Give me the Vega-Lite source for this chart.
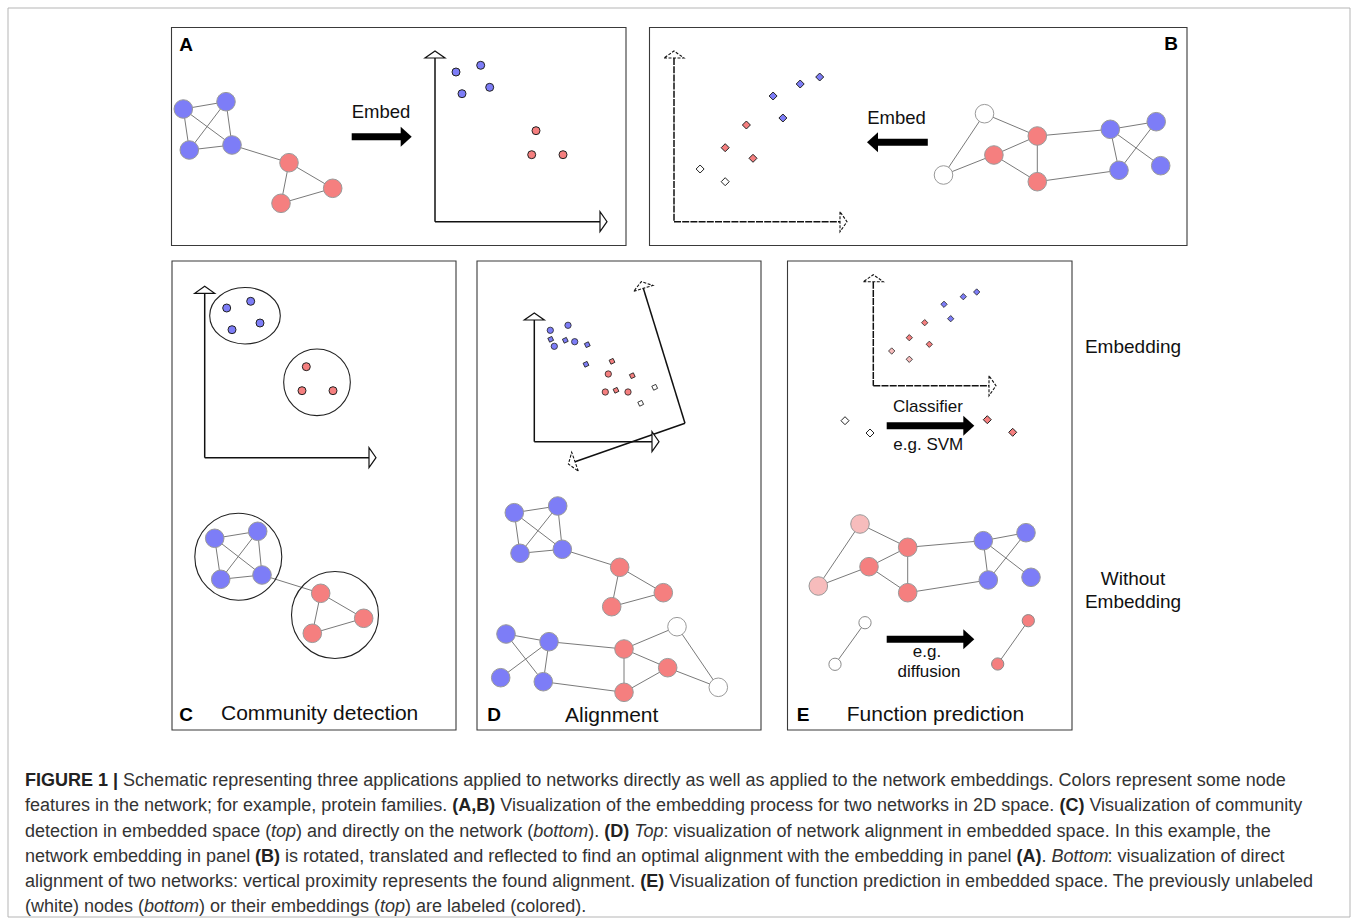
{
  "$schema": "https://vega.github.io/schema/vega-lite/v6.json",
  "width": 1358,
  "height": 922,
  "autosize": {"type": "fit", "contains": "padding"},
  "padding": 0,
  "background": "white",
  "config": {"view": {"stroke": null}, "text": {"font": "Liberation Sans"}},
  "datasets": {
    "frame": [{"x": 8, "y": 8, "x2": 1350, "y2": 917}],
    "panels": [
      {"panel": "A", "x": 171.5, "y": 27.5, "x2": 626, "y2": 245.5},
      {"panel": "B", "x": 649.5, "y": 27.5, "x2": 1187, "y2": 245.5},
      {"panel": "C", "x": 172, "y": 261, "x2": 456, "y2": 730},
      {"panel": "D", "x": 477, "y": 261, "x2": 761, "y2": 730},
      {"panel": "E", "x": 787.5, "y": 261, "x2": 1072, "y2": 730}
    ],
    "edges": [
      {"x": 183.3, "y": 109, "x2": 226, "y2": 101.7},
      {"x": 183.3, "y": 109, "x2": 189.3, "y2": 150},
      {"x": 183.3, "y": 109, "x2": 232, "y2": 145},
      {"x": 226, "y": 101.7, "x2": 189.3, "y2": 150},
      {"x": 226, "y": 101.7, "x2": 232, "y2": 145},
      {"x": 189.3, "y": 150, "x2": 232, "y2": 145},
      {"x": 232, "y": 145, "x2": 289, "y2": 162.7},
      {"x": 289, "y": 162.7, "x2": 332.7, "y2": 188.3},
      {"x": 289, "y": 162.7, "x2": 281, "y2": 203.3},
      {"x": 332.7, "y": 188.3, "x2": 281, "y2": 203.3},

      {"x": 984.5, "y": 113.7, "x2": 943.5, "y2": 175},
      {"x": 984.5, "y": 113.7, "x2": 1037.3, "y2": 136},
      {"x": 943.5, "y": 175, "x2": 993.9, "y2": 155},
      {"x": 993.9, "y": 155, "x2": 1037.3, "y2": 136},
      {"x": 993.9, "y": 155, "x2": 1037.3, "y2": 181.7},
      {"x": 1037.3, "y": 136, "x2": 1037.3, "y2": 181.7},
      {"x": 1037.3, "y": 136, "x2": 1110.3, "y2": 129.3},
      {"x": 1037.3, "y": 181.7, "x2": 1119, "y2": 170.3},
      {"x": 1110.3, "y": 129.3, "x2": 1156.2, "y2": 121.7},
      {"x": 1110.3, "y": 129.3, "x2": 1119, "y2": 170.3},
      {"x": 1110.3, "y": 129.3, "x2": 1160.7, "y2": 165.7},
      {"x": 1156.2, "y": 121.7, "x2": 1119, "y2": 170.3},

      {"x": 214.7, "y": 538.3, "x2": 257.7, "y2": 531.3},
      {"x": 214.7, "y": 538.3, "x2": 220.7, "y2": 579.3},
      {"x": 214.7, "y": 538.3, "x2": 262, "y2": 575},
      {"x": 257.7, "y": 531.3, "x2": 220.7, "y2": 579.3},
      {"x": 257.7, "y": 531.3, "x2": 262, "y2": 575},
      {"x": 220.7, "y": 579.3, "x2": 262, "y2": 575},
      {"x": 262, "y": 575, "x2": 320.7, "y2": 593.3},
      {"x": 320.7, "y": 593.3, "x2": 363.7, "y2": 618.3},
      {"x": 320.7, "y": 593.3, "x2": 312.3, "y2": 633.3},
      {"x": 363.7, "y": 618.3, "x2": 312.3, "y2": 633.3},

      {"x": 514.3, "y": 512.7, "x2": 557.7, "y2": 506},
      {"x": 514.3, "y": 512.7, "x2": 520, "y2": 553.3},
      {"x": 514.3, "y": 512.7, "x2": 562.3, "y2": 549.3},
      {"x": 557.7, "y": 506, "x2": 520, "y2": 553.3},
      {"x": 557.7, "y": 506, "x2": 562.3, "y2": 549.3},
      {"x": 520, "y": 553.3, "x2": 562.3, "y2": 549.3},
      {"x": 562.3, "y": 549.3, "x2": 619.7, "y2": 567.3},
      {"x": 619.7, "y": 567.3, "x2": 663.3, "y2": 592.7},
      {"x": 619.7, "y": 567.3, "x2": 611.7, "y2": 606.7},
      {"x": 663.3, "y": 592.7, "x2": 611.7, "y2": 606.7},

      {"x": 506, "y": 634, "x2": 549, "y2": 641.7},
      {"x": 506, "y": 634, "x2": 543.3, "y2": 681.7},
      {"x": 549, "y": 641.7, "x2": 500.7, "y2": 677.7},
      {"x": 549, "y": 641.7, "x2": 543.3, "y2": 681.7},
      {"x": 549, "y": 641.7, "x2": 624, "y2": 649},
      {"x": 543.3, "y": 681.7, "x2": 624, "y2": 692.3},
      {"x": 624, "y": 649, "x2": 624, "y2": 692.3},
      {"x": 624, "y": 649, "x2": 667.7, "y2": 667.7},
      {"x": 624, "y": 649, "x2": 677, "y2": 626.7},
      {"x": 667.7, "y": 667.7, "x2": 624, "y2": 692.3},
      {"x": 667.7, "y": 667.7, "x2": 718.3, "y2": 687.3},
      {"x": 677, "y": 626.7, "x2": 718.3, "y2": 687.3},

      {"x": 860, "y": 524, "x2": 818.3, "y2": 586},
      {"x": 860, "y": 524, "x2": 907.7, "y2": 547.3},
      {"x": 818.3, "y": 586, "x2": 869, "y2": 566.7},
      {"x": 869, "y": 566.7, "x2": 907.7, "y2": 547.3},
      {"x": 869, "y": 566.7, "x2": 907.7, "y2": 592.7},
      {"x": 907.7, "y": 547.3, "x2": 907.7, "y2": 592.7},
      {"x": 907.7, "y": 547.3, "x2": 983.3, "y2": 540.7},
      {"x": 907.7, "y": 592.7, "x2": 988.3, "y2": 580},
      {"x": 983.3, "y": 540.7, "x2": 1026, "y2": 532.7},
      {"x": 983.3, "y": 540.7, "x2": 988.3, "y2": 580},
      {"x": 983.3, "y": 540.7, "x2": 1031, "y2": 577.3},
      {"x": 1026, "y": 532.7, "x2": 988.3, "y2": 580},

      {"x": 865, "y": 622.7, "x2": 835, "y2": 664.3},
      {"x": 1028.3, "y": 620.7, "x2": 997.7, "y2": 664}
    ],
    "nodes": [
      {"x": 183.3, "y": 109, "cls": "blue"}, {"x": 226, "y": 101.7, "cls": "blue"},
      {"x": 189.3, "y": 150, "cls": "blue"}, {"x": 232, "y": 145, "cls": "blue"},
      {"x": 289, "y": 162.7, "cls": "red"}, {"x": 332.7, "y": 188.3, "cls": "red"},
      {"x": 281, "y": 203.3, "cls": "red"},

      {"x": 984.5, "y": 113.7, "cls": "white"}, {"x": 943.5, "y": 175, "cls": "white"},
      {"x": 1037.3, "y": 136, "cls": "red"}, {"x": 993.9, "y": 155, "cls": "red"},
      {"x": 1037.3, "y": 181.7, "cls": "red"}, {"x": 1110.3, "y": 129.3, "cls": "blue"},
      {"x": 1156.2, "y": 121.7, "cls": "blue"}, {"x": 1119, "y": 170.3, "cls": "blue"},
      {"x": 1160.7, "y": 165.7, "cls": "blue"},

      {"x": 214.7, "y": 538.3, "cls": "blue"}, {"x": 257.7, "y": 531.3, "cls": "blue"},
      {"x": 220.7, "y": 579.3, "cls": "blue"}, {"x": 262, "y": 575, "cls": "blue"},
      {"x": 320.7, "y": 593.3, "cls": "red"}, {"x": 363.7, "y": 618.3, "cls": "red"},
      {"x": 312.3, "y": 633.3, "cls": "red"},

      {"x": 514.3, "y": 512.7, "cls": "blue"}, {"x": 557.7, "y": 506, "cls": "blue"},
      {"x": 520, "y": 553.3, "cls": "blue"}, {"x": 562.3, "y": 549.3, "cls": "blue"},
      {"x": 619.7, "y": 567.3, "cls": "red"}, {"x": 663.3, "y": 592.7, "cls": "red"},
      {"x": 611.7, "y": 606.7, "cls": "red"},

      {"x": 506, "y": 634, "cls": "blue"}, {"x": 549, "y": 641.7, "cls": "blue"},
      {"x": 500.7, "y": 677.7, "cls": "blue"}, {"x": 543.3, "y": 681.7, "cls": "blue"},
      {"x": 624, "y": 649, "cls": "red"}, {"x": 667.7, "y": 667.7, "cls": "red"},
      {"x": 624, "y": 692.3, "cls": "red"}, {"x": 677, "y": 626.7, "cls": "white"},
      {"x": 718.3, "y": 687.3, "cls": "white"},

      {"x": 860, "y": 524, "cls": "pink"}, {"x": 818.3, "y": 586, "cls": "pink"},
      {"x": 869, "y": 566.7, "cls": "red"}, {"x": 907.7, "y": 547.3, "cls": "red"},
      {"x": 907.7, "y": 592.7, "cls": "red"}, {"x": 983.3, "y": 540.7, "cls": "blue"},
      {"x": 1026, "y": 532.7, "cls": "blue"}, {"x": 988.3, "y": 580, "cls": "blue"},
      {"x": 1031, "y": 577.3, "cls": "blue"}
    ],
    "pairNodes": [
      {"x": 865, "y": 622.7, "cls": "white"}, {"x": 835, "y": 664.3, "cls": "white"},
      {"x": 1028.3, "y": 620.7, "cls": "red"}, {"x": 997.7, "y": 664, "cls": "red"}
    ],
    "embedLarge": [
      {"x": 456, "y": 72, "cls": "blue", "kind": "circle"},
      {"x": 480.7, "y": 65.3, "cls": "blue", "kind": "circle"},
      {"x": 462, "y": 93.7, "cls": "blue", "kind": "circle"},
      {"x": 489.7, "y": 87.3, "cls": "blue", "kind": "circle"},
      {"x": 536, "y": 130.7, "cls": "red", "kind": "circle"},
      {"x": 531.7, "y": 154.7, "cls": "red", "kind": "circle"},
      {"x": 563, "y": 154.7, "cls": "red", "kind": "circle"},
      {"x": 226.7, "y": 308, "cls": "blue", "kind": "circle"},
      {"x": 250.7, "y": 301.3, "cls": "blue", "kind": "circle"},
      {"x": 232, "y": 329.7, "cls": "blue", "kind": "circle"},
      {"x": 260, "y": 323, "cls": "blue", "kind": "circle"},
      {"x": 306.3, "y": 366.7, "cls": "red", "kind": "circle"},
      {"x": 302, "y": 390.7, "cls": "red", "kind": "circle"},
      {"x": 333, "y": 390.7, "cls": "red", "kind": "circle"},
      {"x": 700.1, "y": 169, "cls": "white", "kind": "diamond"},
      {"x": 725.2, "y": 181.7, "cls": "white", "kind": "diamond"},
      {"x": 725.2, "y": 147.7, "cls": "red", "kind": "diamond"},
      {"x": 746.4, "y": 125, "cls": "red", "kind": "diamond"},
      {"x": 753, "y": 158.3, "cls": "red", "kind": "diamond"},
      {"x": 773.1, "y": 96, "cls": "blue", "kind": "diamond"},
      {"x": 782.9, "y": 118, "cls": "blue", "kind": "diamond"},
      {"x": 800.2, "y": 84, "cls": "blue", "kind": "diamond"},
      {"x": 819.7, "y": 77, "cls": "blue", "kind": "diamond"},
      {"x": 845, "y": 420.7, "cls": "white", "kind": "diamond"},
      {"x": 870, "y": 433, "cls": "white", "kind": "diamond"},
      {"x": 987.3, "y": 419.7, "cls": "red", "kind": "diamond"},
      {"x": 1012.7, "y": 432.3, "cls": "red", "kind": "diamond"}
    ],
    "embedSmall": [
      {"x": 550.3, "y": 330.3, "cls": "blue", "kind": "circle"},
      {"x": 568, "y": 325.3, "cls": "blue", "kind": "circle"},
      {"x": 554.3, "y": 346.3, "cls": "blue", "kind": "circle"},
      {"x": 574.7, "y": 341.7, "cls": "blue", "kind": "circle"},
      {"x": 608.3, "y": 374, "cls": "red", "kind": "circle"},
      {"x": 605.3, "y": 392, "cls": "red", "kind": "circle"},
      {"x": 628, "y": 392, "cls": "red", "kind": "circle"},
      {"x": 891.7, "y": 351, "cls": "pink", "kind": "diamond"},
      {"x": 909.3, "y": 359.3, "cls": "pink", "kind": "diamond"},
      {"x": 909.3, "y": 337.7, "cls": "red", "kind": "diamond"},
      {"x": 924.7, "y": 322.7, "cls": "red", "kind": "diamond"},
      {"x": 929.3, "y": 344.3, "cls": "red", "kind": "diamond"},
      {"x": 944, "y": 304.3, "cls": "blue", "kind": "diamond"},
      {"x": 950.7, "y": 318.7, "cls": "blue", "kind": "diamond"},
      {"x": 963.3, "y": 296.7, "cls": "blue", "kind": "diamond"},
      {"x": 976.7, "y": 292, "cls": "blue", "kind": "diamond"}
    ],
    "embedRotated": [
      {"x": 550.7, "y": 339.3, "cls": "blue"},
      {"x": 565.3, "y": 340.3, "cls": "blue"},
      {"x": 587.3, "y": 344.7, "cls": "blue"},
      {"x": 586, "y": 364.3, "cls": "blue"},
      {"x": 612, "y": 361.3, "cls": "red"},
      {"x": 632.3, "y": 375.7, "cls": "red"},
      {"x": 616, "y": 390.3, "cls": "red"},
      {"x": 654.7, "y": 387.3, "cls": "white"},
      {"x": 640.7, "y": 403.3, "cls": "white"}
    ],
    "ringsSmall": [{"x": 317, "y": 382.3}],
    "ringsLarge": [{"x": 238.3, "y": 556.7}, {"x": 335, "y": 615}],
    "ellipses": [{"x": 245, "y": 315.7}],
    "axesSolid": [
      {"x": 435, "y": 58, "x2": 435, "y2": 221.7},
      {"x": 435, "y": 221.7, "x2": 600, "y2": 221.7},
      {"x": 204.7, "y": 293.3, "x2": 204.7, "y2": 457.7},
      {"x": 204.7, "y": 457.7, "x2": 369, "y2": 457.7},
      {"x": 534.3, "y": 320, "x2": 534.3, "y2": 441.7},
      {"x": 534.3, "y": 441.7, "x2": 652, "y2": 441.7},
      {"x": 685, "y": 423.3, "x2": 643.3, "y2": 288.3},
      {"x": 685, "y": 423.3, "x2": 575, "y2": 461.7}
    ],
    "axesDashed": [
      {"x": 674, "y": 58, "x2": 674, "y2": 221.7},
      {"x": 674, "y": 221.7, "x2": 840, "y2": 221.7},
      {"x": 873.3, "y": 281.7, "x2": 873.3, "y2": 385.7},
      {"x": 873.3, "y": 385.7, "x2": 989, "y2": 385.7}
    ],
    "headsSolid": [
      {"x": 435, "y": 54.5, "dir": 0},
      {"x": 603.5, "y": 221.7, "dir": 90},
      {"x": 204.7, "y": 289.8, "dir": 0},
      {"x": 372.5, "y": 457.7, "dir": 90},
      {"x": 534.3, "y": 316.5, "dir": 0},
      {"x": 655.5, "y": 441.7, "dir": 90}
    ],
    "headsDashed": [
      {"x": 674, "y": 54.5, "dir": 0},
      {"x": 843.5, "y": 221.7, "dir": 90},
      {"x": 873.3, "y": 278.2, "dir": 0},
      {"x": 992.5, "y": 385.7, "dir": 90},
      {"x": 642.3, "y": 285, "dir": 342.8},
      {"x": 571.7, "y": 462.9, "dir": 250.8}
    ],
    "shafts": [
      {"x": 351.7, "x2": 402, "y": 136.7},
      {"x": 877.4, "x2": 927.8, "y": 142.3},
      {"x": 886.7, "x2": 965, "y": 425.7},
      {"x": 886.7, "x2": 965, "y": 639.3}
    ],
    "blockHeads": [
      {"x": 406.2, "y": 136.7, "dir": 90},
      {"x": 872.5, "y": 142.3, "dir": 270},
      {"x": 968.8, "y": 425.7, "dir": 90},
      {"x": 968.8, "y": 639.3, "dir": 90}
    ],
    "panelLetters": [
      {"x": 186, "y": 45, "t": "A"},
      {"x": 1171, "y": 44, "t": "B"},
      {"x": 186, "y": 715, "t": "C"},
      {"x": 494, "y": 715, "t": "D"},
      {"x": 803, "y": 715, "t": "E"}
    ],
    "titles": [
      {"x": 221, "y": 714, "t": "Community detection"},
      {"x": 565, "y": 716, "t": "Alignment"},
      {"x": 846.7, "y": 715, "t": "Function prediction"}
    ],
    "embedLabels": [
      {"x": 381, "y": 112, "t": "Embed"},
      {"x": 896.5, "y": 118, "t": "Embed"}
    ],
    "arrowLabels": [
      {"x": 928, "y": 406.5, "t": "Classifier"},
      {"x": 928.3, "y": 445, "t": "e.g. SVM"},
      {"x": 927, "y": 652, "t": "e.g."},
      {"x": 929, "y": 672, "t": "diffusion"}
    ],
    "sideLabels": [
      {"x": 1133, "y": 347, "t": "Embedding"},
      {"x": 1133, "y": 579, "t": "Without"},
      {"x": 1133, "y": 602, "t": "Embedding"}
    ],
    "capReg": [
      {"x": 123.1, "y": 781, "t": "Schematic representing three applications applied to networks directly as well as applied to the network embeddings. Colors represent some node"},
      {"x": 25, "y": 806, "t": "features in the network; for example, protein families."},
      {"x": 500.2, "y": 806, "t": "Visualization of the embedding process for two networks in 2D space."},
      {"x": 1089.4, "y": 806, "t": "Visualization of community"},
      {"x": 25, "y": 832, "t": "detection in embedded space ("},
      {"x": 296.1, "y": 832, "t": ") and directly on the network ("},
      {"x": 588.2, "y": 832, "t": ")."},
      {"x": 663.4, "y": 832, "t": ": visualization of network alignment in embedded space. In this example, the"},
      {"x": 25, "y": 857, "t": "network embedding in panel"},
      {"x": 285.1, "y": 857, "t": "is rotated, translated and reflected to find an optimal alignment with the embedding in panel"},
      {"x": 1041.5, "y": 857, "t": "."},
      {"x": 1107.5, "y": 857, "t": ": visualization of direct"},
      {"x": 25, "y": 882, "t": "alignment of two networks: vertical proximity represents the found alignment."},
      {"x": 669.2, "y": 882, "t": "Visualization of function prediction in embedded space. The previously unlabeled"},
      {"x": 25, "y": 907, "t": "(white) nodes ("},
      {"x": 199, "y": 907, "t": ") or their embeddings ("},
      {"x": 405.1, "y": 907, "t": ") are labeled (colored)."}
    ],
    "capBold": [
      {"x": 25, "y": 781, "t": "FIGURE 1 |"},
      {"x": 452.2, "y": 806, "t": "(A,B)"},
      {"x": 1059.4, "y": 806, "t": "(C)"},
      {"x": 604.2, "y": 832, "t": "(D)"},
      {"x": 255.1, "y": 857, "t": "(B)"},
      {"x": 1016.5, "y": 857, "t": "(A)"},
      {"x": 640.2, "y": 882, "t": "(E)"}
    ],
    "capItal": [
      {"x": 271.1, "y": 832, "t": "top"},
      {"x": 533.2, "y": 832, "t": "bottom"},
      {"x": 634.2, "y": 832, "t": "Top"},
      {"x": 1051.5, "y": 857, "t": "Bottom"},
      {"x": 144, "y": 907, "t": "bottom"},
      {"x": 380.1, "y": 907, "t": "top"}
    ]
  },
  "encoding": {
    "x": {"field": "x", "type": "quantitative", "scale": {"domain": [0, 1358], "nice": false, "zero": false}, "axis": null},
    "y": {"field": "y", "type": "quantitative", "scale": {"domain": [0, 922], "nice": false, "zero": false, "reverse": true}, "axis": null}
  },
  "layer": [
    {
      "data": {"name": "frame"},
      "mark": {"type": "rect", "filled": false, "stroke": "#b5b5b5", "strokeWidth": 1},
      "encoding": {"x2": {"field": "x2"}, "y2": {"field": "y2"}}
    },
    {
      "data": {"name": "panels"},
      "mark": {"type": "rect", "filled": false, "stroke": "#3a3a3a", "strokeWidth": 1.1},
      "encoding": {"x2": {"field": "x2"}, "y2": {"field": "y2"}}
    },
    {
      "data": {"name": "edges"},
      "mark": {"type": "rule", "stroke": "#7a7a7a", "strokeWidth": 1},
      "encoding": {"x2": {"field": "x2"}, "y2": {"field": "y2"}}
    },
    {
      "data": {"name": "ringsSmall"},
      "mark": {"type": "point", "shape": "circle", "filled": false, "stroke": "#222", "strokeWidth": 1.1, "opacity": 1, "size": 4444}
    },
    {
      "data": {"name": "ringsLarge"},
      "mark": {"type": "point", "shape": "circle", "filled": false, "stroke": "#222", "strokeWidth": 1.1, "opacity": 1, "size": 7569}
    },
    {
      "data": {"name": "ellipses"},
      "mark": {"type": "point", "shape": "M1,0C1,0.4418 0.5523,0.8 0,0.8C-0.5523,0.8 -1,0.4418 -1,0C-1,-0.4418 -0.5523,-0.8 0,-0.8C0.5523,-0.8 1,-0.4418 1,0Z", "filled": false, "stroke": "#222", "strokeWidth": 1.1, "opacity": 1, "size": 4984}
    },
    {
      "data": {"name": "nodes"},
      "mark": {"type": "point", "shape": "circle", "filled": true, "stroke": "#9a9a9a", "strokeWidth": 1, "opacity": 1, "size": 345},
      "encoding": {
        "fill": {"field": "cls", "type": "nominal", "scale": {"domain": ["blue", "red", "white", "pink"], "range": ["#7d7df7", "#f57f7f", "#ffffff", "#f7bcbc"]}, "legend": null}
      }
    },
    {
      "data": {"name": "pairNodes"},
      "mark": {"type": "point", "shape": "circle", "filled": true, "stroke": "#8a8a8a", "strokeWidth": 1, "opacity": 1, "size": 150},
      "encoding": {
        "fill": {"field": "cls", "type": "nominal", "legend": null}
      }
    },
    {
      "data": {"name": "embedLarge"},
      "mark": {"type": "point", "filled": true, "stroke": "#222", "strokeWidth": 1, "opacity": 1, "size": 64},
      "encoding": {
        "fill": {"field": "cls", "type": "nominal", "legend": null},
        "shape": {"field": "kind", "type": "nominal", "scale": {"domain": ["circle", "diamond"], "range": ["circle", "diamond"]}, "legend": null}
      }
    },
    {
      "data": {"name": "embedSmall"},
      "mark": {"type": "point", "filled": true, "stroke": "#222", "strokeWidth": 0.8, "opacity": 1, "size": 40},
      "encoding": {
        "fill": {"field": "cls", "type": "nominal", "legend": null},
        "shape": {"field": "kind", "type": "nominal", "legend": null}
      }
    },
    {
      "data": {"name": "embedRotated"},
      "mark": {"type": "point", "shape": "diamond", "filled": true, "stroke": "#222", "strokeWidth": 0.8, "opacity": 1, "size": 38, "angle": 20},
      "encoding": {
        "fill": {"field": "cls", "type": "nominal", "legend": null}
      }
    },
    {
      "data": {"name": "axesSolid"},
      "mark": {"type": "rule", "stroke": "#111", "strokeWidth": 1.5},
      "encoding": {"x2": {"field": "x2"}, "y2": {"field": "y2"}}
    },
    {
      "data": {"name": "axesDashed"},
      "mark": {"type": "rule", "stroke": "#111", "strokeWidth": 1.5, "strokeDash": [7, 1.2]},
      "encoding": {"x2": {"field": "x2"}, "y2": {"field": "y2"}}
    },
    {
      "data": {"name": "headsSolid"},
      "mark": {"type": "point", "shape": "M-1,0.35L1,0.35L0,-0.35Z", "filled": true, "fill": "white", "stroke": "#111", "strokeWidth": 1.2, "opacity": 1, "size": 400},
      "encoding": {"angle": {"field": "dir", "type": "quantitative", "scale": null}}
    },
    {
      "data": {"name": "headsDashed"},
      "mark": {"type": "point", "shape": "M-1,0.35L1,0.35L0,-0.35Z", "filled": true, "fill": "white", "stroke": "#111", "strokeWidth": 1.1, "strokeDash": [3, 1.5], "opacity": 1, "size": 400},
      "encoding": {"angle": {"field": "dir", "type": "quantitative", "scale": null}}
    },
    {
      "data": {"name": "shafts"},
      "mark": {"type": "rule", "stroke": "#000", "strokeWidth": 7, "strokeCap": "butt"},
      "encoding": {"x2": {"field": "x2"}}
    },
    {
      "data": {"name": "blockHeads"},
      "mark": {"type": "point", "shape": "M-1,0.55L1,0.55L0,-0.55Z", "filled": true, "fill": "#000", "strokeWidth": 0, "opacity": 1, "size": 400},
      "encoding": {"angle": {"field": "dir", "type": "quantitative", "scale": null}}
    },
    {
      "data": {"name": "panelLetters"},
      "mark": {"type": "text", "fontSize": 19, "fontWeight": "bold", "align": "center", "baseline": "middle", "color": "#000"},
      "encoding": {"text": {"field": "t"}}
    },
    {
      "data": {"name": "titles"},
      "mark": {"type": "text", "fontSize": 21, "align": "left", "baseline": "middle", "color": "#111"},
      "encoding": {"text": {"field": "t"}}
    },
    {
      "data": {"name": "embedLabels"},
      "mark": {"type": "text", "fontSize": 18.5, "align": "center", "baseline": "middle", "color": "#111"},
      "encoding": {"text": {"field": "t"}}
    },
    {
      "data": {"name": "arrowLabels"},
      "mark": {"type": "text", "fontSize": 17, "align": "center", "baseline": "middle", "color": "#111"},
      "encoding": {"text": {"field": "t"}}
    },
    {
      "data": {"name": "sideLabels"},
      "mark": {"type": "text", "fontSize": 19, "align": "center", "baseline": "middle", "color": "#111"},
      "encoding": {"text": {"field": "t"}}
    },
    {
      "data": {"name": "capReg"},
      "mark": {"type": "text", "fontSize": 18, "align": "left", "baseline": "middle", "color": "#333"},
      "encoding": {"text": {"field": "t"}}
    },
    {
      "data": {"name": "capBold"},
      "mark": {"type": "text", "fontSize": 18, "fontWeight": "bold", "align": "left", "baseline": "middle", "color": "#222"},
      "encoding": {"text": {"field": "t"}}
    },
    {
      "data": {"name": "capItal"},
      "mark": {"type": "text", "fontSize": 18, "fontStyle": "italic", "align": "left", "baseline": "middle", "color": "#333"},
      "encoding": {"text": {"field": "t"}}
    }
  ]
}
